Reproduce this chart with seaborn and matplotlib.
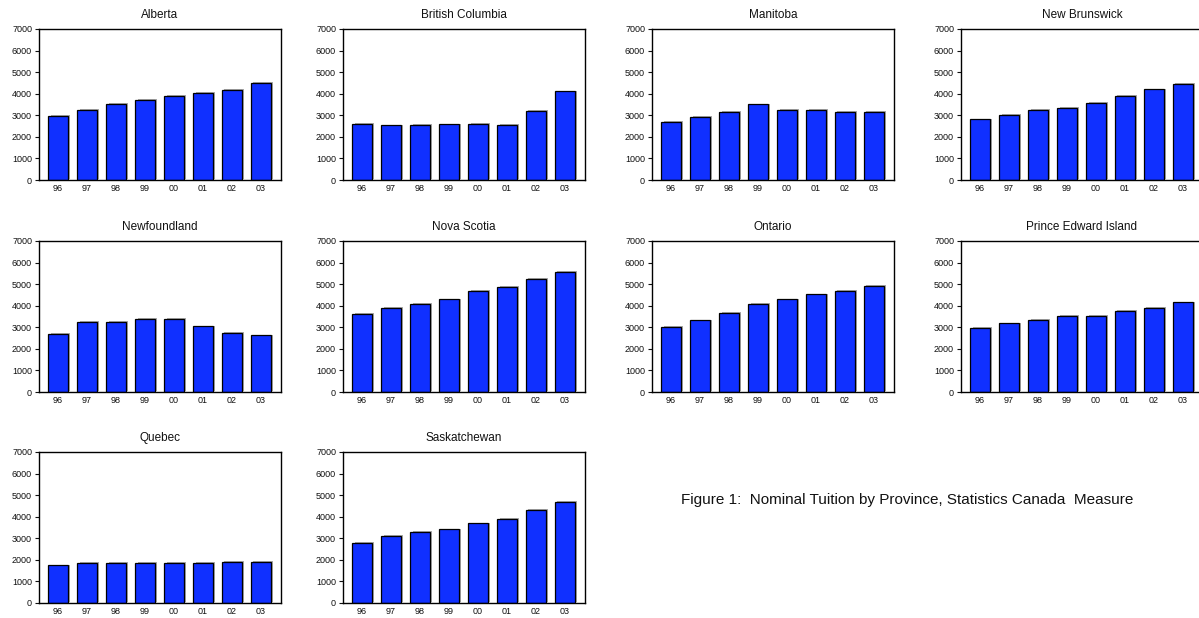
import matplotlib
matplotlib.use("Agg")
import matplotlib.pyplot as plt
import matplotlib.patheffects as pe
import seaborn as sns
import pandas as pd

years = ["96", "97", "98", "99", "00", "01", "02", "03"]

provinces = ["Alberta", "British Columbia", "Manitoba", "New Brunswick",
             "Newfoundland", "Nova Scotia", "Ontario", "Prince Edward Island",
             "Quebec", "Saskatchewan"]

alberta = [2980, 3250, 3510, 3730, 3900, 4020, 4160, 4500]
british_columbia = [2600, 2530, 2550, 2580, 2610, 2550, 3190, 4110]
manitoba = [2690, 2920, 3140, 3500, 3230, 3250, 3140, 3140]
new_brunswick = [2810, 3030, 3230, 3360, 3590, 3880, 4200, 4450]
newfoundland = [2710, 3230, 3230, 3390, 3390, 3040, 2730, 2620]
nova_scotia = [3620, 3910, 4100, 4290, 4670, 4880, 5230, 5570]
ontario = [3010, 3320, 3660, 4100, 4290, 4520, 4690, 4920]
prince_edward_island = [2970, 3180, 3350, 3520, 3520, 3740, 3900, 4150]
quebec = [1740, 1840, 1840, 1840, 1850, 1870, 1900, 1900]
saskatchewan = [2770, 3110, 3310, 3410, 3690, 3910, 4330, 4690]

series = [alberta, british_columbia, manitoba, new_brunswick, newfoundland,
          nova_scotia, ontario, prince_edward_island, quebec, saskatchewan]

yticks = [0, 1000, 2000, 3000, 4000, 5000, 6000, 7000]

sns.set_theme(style="white")
plt.rcParams["font.family"] = ["Liberation Sans", "DejaVu Sans"]

W, H = 1199, 618
fig = plt.figure(figsize=(W / 100, H / 100), dpi=100)
fig.patch.set_facecolor("white")

col_left = [39, 343, 652, 961]
row_top = [29, 241, 452]
ax_w, ax_h = 242, 151

for i, (name, vals) in enumerate(zip(provinces, series)):
    r, c = divmod(i, 4)
    left = col_left[c] / W
    bottom = 1 - (row_top[r] + ax_h) / H
    ax = fig.add_axes([left, bottom, ax_w / W, ax_h / H])
    df = pd.DataFrame({"year": years, "tuition": vals})
    sns.barplot(data=df, x="year", y="tuition", ax=ax, color="#1030FF",
                saturation=1, width=0.68, edgecolor="black", linewidth=0.9)
    # grey drop shadow on the right side of each bar
    for p in ax.patches:
        p.set_path_effects([
            pe.SimplePatchShadow(offset=(1.8, 0.6), shadow_rgbFace="#a0a0a0", alpha=0.9),
            pe.Normal(),
        ])
    ax.set_xlim(-0.66, 7.7)
    ax.set_ylim(0, 7000)
    ax.set_yticks(yticks)
    ax.set_yticklabels([str(v) for v in yticks])
    ax.set_xlabel("")
    ax.set_ylabel("")
    ax.set_title(name, fontsize=8.5, pad=8, color="#111111")
    ax.tick_params(axis="y", which="both", left=True, length=3, width=0.8,
                   labelsize=6.5, pad=2, colors="#111111")
    ax.tick_params(axis="x", length=0, labelsize=6.5, pad=3, colors="#111111")
    for s in ax.spines.values():
        s.set_visible(True)
        s.set_color("black")
        s.set_linewidth(1.0)
    ax.set_facecolor("white")
    ax.grid(False)

fig.text(907 / W, 1 - 500 / H,
         "Figure 1:  Nominal Tuition by Province, Statistics Canada  Measure",
         ha="center", va="center", fontsize=11, color="#111111")

fig.savefig("out.png", dpi=100, facecolor="white")
